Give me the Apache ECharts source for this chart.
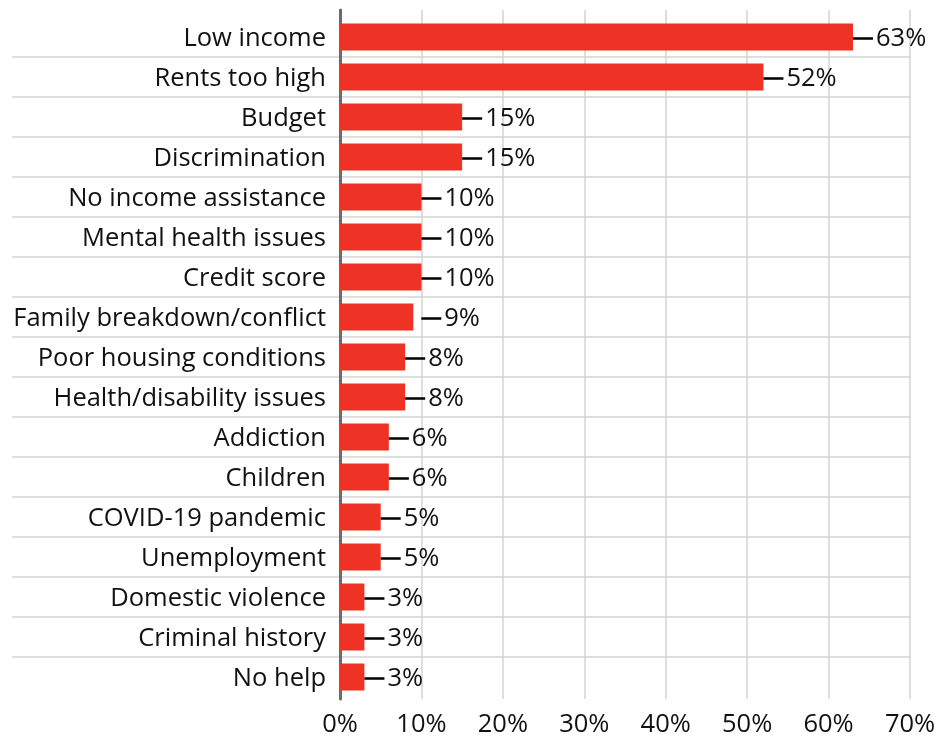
<!DOCTYPE html>
<html><head><meta charset="utf-8">
<script src="https://cdn.jsdelivr.net/npm/echarts@6/dist/echarts.min.js"></script>
<style>html,body{margin:0;padding:0;background:#fff}#c{width:939px;height:738px}</style>
</head><body><div id="c"></div>
<script>
const categories = ["Low income","Rents too high","Budget","Discrimination","No income assistance","Mental health issues","Credit score","Family breakdown/conflict","Poor housing conditions","Health/disability issues","Addiction","Children","COVID-19 pandemic","Unemployment","Domestic violence","Criminal history","No help"];
const values = [63,52,15,15,10,10,10,9,8,8,6,6,5,5,3,3,3];
const xTicks = [0,10,20,30,40,50,60,70];

const FONT = 'Open Sans';
const FS = 25.5;
const chart = echarts.init(document.getElementById('c'));
chart.setOption({
  animation:false,
  backgroundColor:'#fff',
  grid:[
    {left:340,right:29,top:10,bottom:35},
    {left:340,right:29,top:17,height:680},
    {left:12,right:29,top:17,height:680}
  ],
  xAxis:[
    {gridIndex:0,type:'value',min:0,max:70,interval:10,
     axisLine:{show:false},axisTick:{show:false},
     splitLine:{show:true,lineStyle:{color:'#d3d3d3',width:1.5}},
     axisLabel:{formatter:v=>v+'%',fontFamily:FONT,fontSize:FS,color:'#111',margin:13}},
    {gridIndex:1,type:'value',min:0,max:70,show:false},
    {gridIndex:2,type:'value',min:0,max:1,show:false}
  ],
  yAxis:[
    {gridIndex:0,type:'value',min:0,max:1,axisLine:{show:true,lineStyle:{color:'#6b6b6b',width:3}},
     axisTick:{show:false},axisLabel:{show:false},splitLine:{show:false}},
    {gridIndex:1,type:'category',data:categories,inverse:true,
     axisLine:{show:false},axisTick:{show:false},splitLine:{show:false},
     axisLabel:{margin:14,formatter:v=>'{a|'+v+'}',
       rich:{a:{fontFamily:FONT,fontSize:FS,color:'#111',padding:[4,0,0,0]}}}},
    {gridIndex:2,type:'value',min:0,max:categories.length,interval:1,inverse:true,
     axisLine:{show:false},axisTick:{show:false},axisLabel:{show:false},
     splitLine:{show:true,showMinLine:false,showMaxLine:false,lineStyle:{color:'#d3d3d3',width:1.5}}}
  ],
  series:[{
    type:'bar',xAxisIndex:1,yAxisIndex:1,barWidth:27,
    itemStyle:{color:'#EE3226'},
    data:values.map((v,i)=>{
      const d={value:v};
      if(v===9) d.label={offset:[8,1.5]};
      return d;
    }),
    label:{show:true,position:'right',distance:0,offset:[0,1.5],
      formatter:p=>'{l| }{v|'+p.value+'%}',
      rich:{
        l:{width:20,height:2.5,backgroundColor:'#000',verticalAlign:'middle'},
        v:{fontFamily:FONT,fontSize:FS,color:'#111',padding:[0,0,0,3]}
      }},
    z:3
  }]
});
</script></body></html>
